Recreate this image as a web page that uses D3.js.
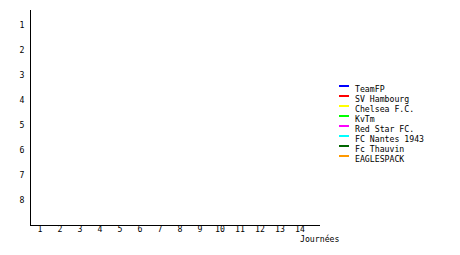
<!DOCTYPE html>
<html>
<head>
<meta charset="utf-8">
<script src="https://cdn.jsdelivr.net/npm/d3@7"></script>
<style>
  body { margin: 0; background: #fff; }
  text { font-family: "DejaVu Sans Mono", monospace; font-size: 8.2px; fill: #000; }
</style>
</head>
<body>
<svg width="460" height="255"></svg>
<script>
// equipes et couleurs
var teams = ["TeamFP", "SV Hambourg", "Chelsea F.C.", "KvTm", "Red Star FC.", "FC Nantes 1943", "Fc Thauvin", "EAGLESPACK"];
var colors = ["#0000ff", "#ff0000", "#ffff00", "#00ff00", "#ff00ff", "#00ffff", "#006600", "#ff9900"];
var journees = [1, 2, 3, 4, 5, 6, 7, 8, 9, 10, 11, 12, 13, 14];
var ranks = [1, 2, 3, 4, 5, 6, 7, 8];
// classements par journee (aucune journee jouee)
var standings = [[], [], [], [], [], [], [], []];

var svg = d3.select("svg");

var x = d3.scaleLinear().domain([0.5, 15]).range([30, 320]);
var y = d3.scaleLinear().domain([0.4, 9]).range([10, 225]);

// axe y
svg.append("line")
  .attr("x1", 30.5).attr("x2", 30.5)
  .attr("y1", y(0.4)).attr("y2", y(9))
  .style("stroke", "#000");

svg.selectAll("text.ylab")
  .data(ranks)
  .enter()
  .append("text")
  .attr("class", "ylab")
  .attr("x", 22)
  .attr("y", function(d) { return y(d) + 3; })
  .attr("text-anchor", "middle")
  .text(function(d) { return d; });

// axe x
svg.append("line")
  .attr("x1", x(0.5)).attr("x2", x(15))
  .attr("y1", 225.5).attr("y2", 225.5)
  .style("stroke", "#000");

svg.selectAll("text.xlab")
  .data(journees)
  .enter()
  .append("text")
  .attr("class", "xlab")
  .attr("x", function(d) { return x(d); })
  .attr("y", 232)
  .attr("text-anchor", "middle")
  .text(function(d) { return d; });

svg.append("text")
  .attr("x", 300)
  .attr("y", 242)
  .text("Journées");

// courbes
var line = d3.line()
  .x(function(d, i) { return x(journees[i]); })
  .y(function(d) { return y(d); });

svg.selectAll("path.team")
  .data(standings)
  .enter()
  .append("path")
  .attr("class", "team")
  .attr("d", line)
  .style("fill", "none")
  .style("stroke", function(d, i) { return colors[i]; });

// legende
var leg = svg.selectAll("g.leg")
  .data(teams)
  .enter()
  .append("g")
  .attr("class", "leg")
  .attr("transform", function(d, i) { return "translate(0," + (i * 10) + ")"; });

leg.append("rect")
  .attr("x", 339)
  .attr("y", 85)
  .attr("width", 10)
  .attr("height", 2)
  .style("fill", function(d, i) { return colors[i]; });

leg.append("text")
  .attr("x", 355)
  .attr("y", 92)
  .text(function(d) { return d; });
</script>
</body>
</html>
